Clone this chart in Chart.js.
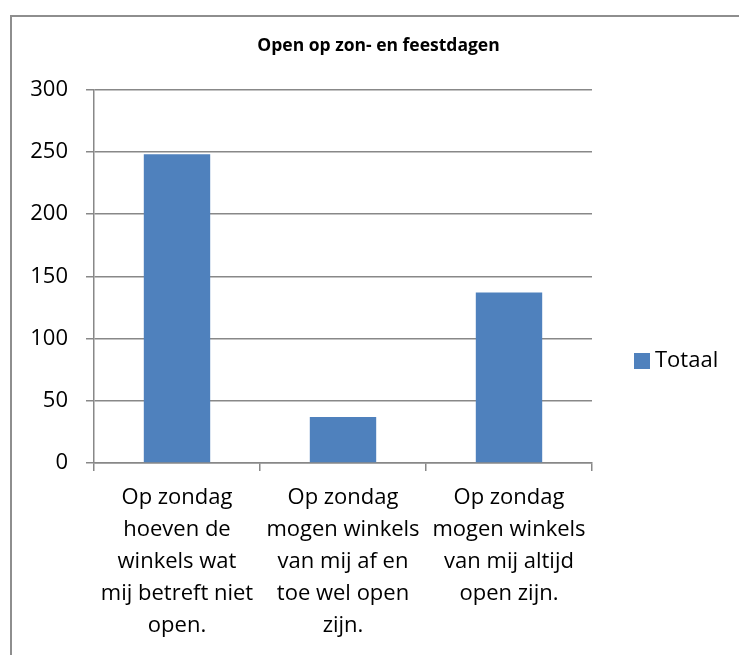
<!DOCTYPE html>
<html>
<head>
<meta charset="utf-8">
<script src="https://cdn.jsdelivr.net/npm/chart.js@4"></script>
<style>
  html, body { margin: 0; padding: 0; background: #fff; overflow: hidden; }
  #frame { position: absolute; left: 10px; top: 15px; width: 760px; height: 700px; border: 2px solid #8e8e8e; box-sizing: border-box; }
  #wrap { position: absolute; left: 0; top: 0; width: 739px; height: 655px; }
</style>
</head>
<body>
<div id="frame"></div>
<div id="wrap"><canvas id="chart"></canvas></div>
<script>
const categories = [
    ["Op zondag", "hoeven de", "winkels wat", "mij betreft niet", "open."],
    ["Op zondag", "mogen winkels", "van mij af en", "toe wel open", "zijn."],
    ["Op zondag", "mogen winkels", "van mij altijd", "open zijn."]
]
const totaal = [248, 37, 137]
const seriesName = "Totaal"
const chartTitle = "Open op zon- en feestdagen"

const barColor = "#4F81BD"
const gridColor = "#888888"
const font = "'Open Sans'"

// legend on the right, drawn by hand so it sits where the original has it
const sideLegend = {
    id: "sideLegend",
    afterDraw(chart) {
        const ctx = chart.ctx
        const ds = chart.data.datasets[0]
        ctx.save()
        ctx.fillStyle = ds.backgroundColor
        ctx.fillRect(634, 353, 16, 16)
        ctx.fillStyle = "#000"
        ctx.font = "22px " + font
        ctx.textBaseline = "middle"
        ctx.textAlign = "left"
        ctx.fillText(ds.label, 655, 361)
        ctx.restore()
    }
}

new Chart(document.getElementById("chart"), {
    type: "bar",
    data: {
        labels: categories,
        datasets: [{
            label: seriesName,
            data: totaal,
            backgroundColor: barColor,
            categoryPercentage: 1,
            barPercentage: 0.4
        }]
    },
    options: {
        responsive: true,
        maintainAspectRatio: false,
        animation: false,
        layout: { padding: { left: 18, right: 0, top: 0, bottom: 0 } },
        plugins: {
            legend: { display: false },
            tooltip: { enabled: false },
            title: {
                display: true,
                text: chartTitle,
                color: "#000",
                font: { family: font, size: 17.5, weight: "bold", lineHeight: 1.2 },
                padding: { top: 35.5, bottom: 33 }
            }
        },
        scales: {
            x: {
                offset: true,
                grid: {
                    offset: true,
                    drawOnChartArea: false,
                    drawTicks: true,
                    tickLength: 8,
                    color: gridColor,
                    lineWidth: 1.5
                },
                border: { color: gridColor, width: 1.5 },
                ticks: {
                    color: "#000",
                    font: { family: font, size: 22, lineHeight: 32 / 22 },
                    padding: 11,
                    autoSkip: false,
                    maxRotation: 0,
                    minRotation: 0
                },
                afterFit(scale) { scale.height = 192 }
            },
            y: {
                min: 0,
                max: 300,
                ticks: {
                    stepSize: 50,
                    color: "#000",
                    font: { family: font, size: 22 },
                    padding: 18
                },
                grid: { color: gridColor, lineWidth: 1.5, tickLength: 8 },
                border: { color: gridColor, width: 1.5 },
                afterFit(scale) { scale.width = 76 }
            },
            y2: {
                position: "right",
                display: true,
                grid: { display: false },
                border: { display: false },
                ticks: { display: false },
                afterFit(scale) { scale.width = 147 }
            }
        }
    },
    plugins: [sideLegend]
})
</script>
</body>
</html>
